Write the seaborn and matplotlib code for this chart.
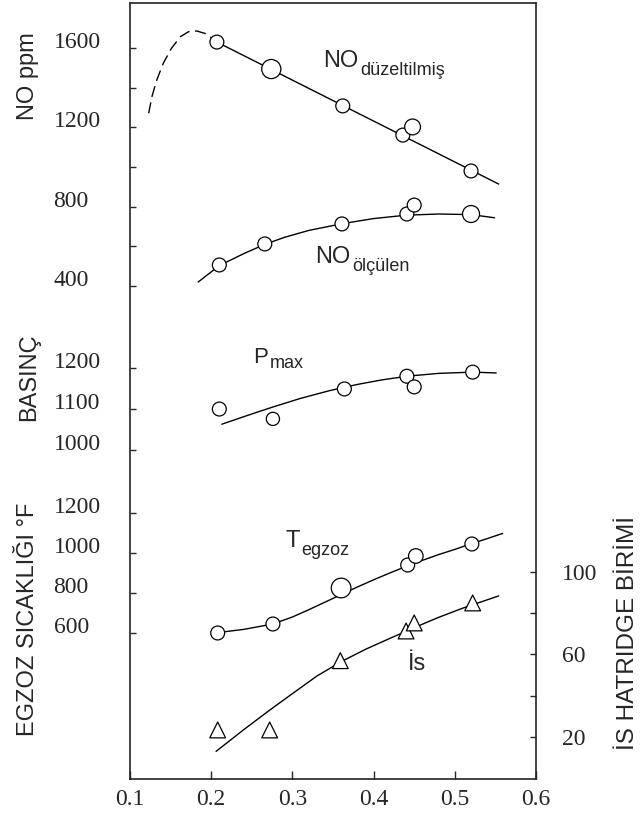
import matplotlib
matplotlib.use('Agg')
import seaborn as sns
import matplotlib.pyplot as plt

x_ticks = [0.1, 0.2, 0.3, 0.4, 0.5, 0.6]

# NO duzeltilmis (ppm)
no_duz_x = [0.207, 0.274, 0.362, 0.436, 0.448, 0.520]
no_duz_y = [1630, 1494, 1308, 1161, 1202, 980]
no_duz_fit_x = [0.207, 0.554]
no_duz_fit_y = [1630, 914]
no_duz_dash_x = [0.123, 0.127, 0.133, 0.141, 0.151, 0.162, 0.172, 0.182, 0.192, 0.203]
no_duz_dash_y = [1271, 1355, 1439, 1523, 1598, 1657, 1682, 1686, 1674, 1645]

# NO olculen (ppm)
no_olc_x = [0.210, 0.266, 0.361, 0.441, 0.450, 0.520]
no_olc_y = [506, 612, 713, 763, 808, 763]
no_olc_fit_x = [0.184, 0.210, 0.240, 0.266, 0.290, 0.320, 0.361, 0.400, 0.440,
                0.480, 0.520, 0.549]
no_olc_fit_y = [420, 503, 563, 610, 645, 680, 714, 740, 757, 763, 760, 744]

# Pmax (basinc)
p_x = [0.210, 0.276, 0.364, 0.441, 0.450, 0.522]
p_y = [1100, 1076, 1149, 1180, 1154, 1190]
p_fit_x = [0.213, 0.250, 0.276, 0.310, 0.346, 0.380, 0.410, 0.441, 0.480,
           0.522, 0.551]
p_fit_y = [1063, 1088, 1105, 1126, 1145, 1160, 1171, 1180, 1187, 1190, 1188]

# T egzoz (F)
t_x = [0.208, 0.276, 0.360, 0.442, 0.452, 0.521]
t_y = [600, 645, 825, 940, 985, 1045]
t_fit_x = [0.208, 0.240, 0.276, 0.300, 0.320, 0.340, 0.360, 0.380, 0.400,
           0.420, 0.440, 0.460, 0.480, 0.500, 0.520, 0.540, 0.559]
t_fit_y = [602, 618, 645, 680, 716, 754, 792, 830, 866, 900, 933, 963, 992,
           1018, 1046, 1072, 1098]

# Is (Hatridge birimi)
is_x = [0.208, 0.272, 0.359, 0.440, 0.450, 0.522]
is_y = [23.4, 23.4, 57, 71.4, 75.3, 85]
is_fit_x = [0.206, 0.240, 0.272, 0.300, 0.330, 0.360, 0.390, 0.420, 0.450,
            0.480, 0.510, 0.554]
is_fit_y = [13, 23.5, 33, 41, 49.5, 56.5, 62.5, 67.8, 73, 78, 82.5, 88.4]

# eksen etiketleri
no_ticks, no_minor = [400, 800, 1200, 1600], [600, 1000, 1400]
p_ticks = [1000, 1100, 1200]
t_ticks = [600, 800, 1000, 1200]
is_ticks, is_minor = [20, 60, 100], [40, 80]

# marker boyutlari (alan, pt^2)
no_duz_s = [100, 190, 100, 100, 130, 100]
no_olc_s = [100, 100, 100, 100, 100, 150]
p_s = [100, 90, 100, 100, 100, 100]
t_s = [100, 100, 200, 100, 110, 100]
is_s = [130, 130, 130, 130, 130, 130]

sns.set_style('ticks')
plt.rcParams['font.family'] = ['Liberation Serif', 'DejaVu Serif']
SANS = ['Liberation Sans', 'DejaVu Sans']

fig = plt.figure(figsize=(6.43, 8.30), dpi=100)
ax = fig.add_axes([130 / 643, 51 / 830, 406 / 643, 776 / 830])
ax_p = ax.twinx()
ax_t = ax.twinx()
ax_s = ax.twinx()


def draw_series(a, fit_x, fit_y, pts_x, pts_y, sizes, marker='o'):
    sns.lineplot(x=fit_x, y=fit_y, ax=a, color='black', lw=1.0,
                 estimator=None, sort=False, zorder=2)
    sns.scatterplot(x=pts_x, y=pts_y, ax=a, marker=marker, s=sizes,
                    color='white', edgecolor='black', linewidth=0.9, zorder=3)


draw_series(ax, no_duz_fit_x, no_duz_fit_y, no_duz_x, no_duz_y, no_duz_s)
sns.lineplot(x=no_duz_dash_x, y=no_duz_dash_y, ax=ax, color='black', lw=1.0,
             estimator=None, sort=False, linestyle=(0, (8, 4)))
draw_series(ax, no_olc_fit_x, no_olc_fit_y, no_olc_x, no_olc_y, no_olc_s)
draw_series(ax_p, p_fit_x, p_fit_y, p_x, p_y, p_s)
draw_series(ax_t, t_fit_x, t_fit_y, t_x, t_y, t_s)
draw_series(ax_s, is_fit_x, is_fit_y, is_x, is_y, is_s, marker='^')

# x ekseni
ax.set_xlim(0.1, 0.6)
ax.set_xticks(x_ticks)
ax.set_xticklabels([f'{v:.1f}' for v in x_ticks])
ax.tick_params(axis='x', direction='in', length=6, width=1, pad=7,
               labelsize=17, top=False)

# sol olcekler (hepsi ayni sol cerceve uzerinde)
ax.set_ylim(-2086, 1827)
ax.set_yticks(no_ticks)
ax.set_yticks(no_minor, minor=True)
ax_p.set_ylim(198, 2090)
ax_p.set_yticks(p_ticks)
ax_t.set_ylim(-130, 3750)
ax_t.set_yticks(t_ticks)
for a in (ax, ax_p, ax_t):
    a.yaxis.tick_left()
    a.tick_params(axis='y', which='both', direction='in', length=4, width=1,
                  pad=55, labelsize=17, right=False)
    plt.setp(a.get_yticklabels(), ha='left', va='baseline')

# sag olcek (is)
ax_s.set_ylim(-0.4, 376)
ax_s.set_yticks(is_ticks)
ax_s.set_yticks(is_minor, minor=True)
ax_s.tick_params(axis='y', which='both', direction='in', length=4, width=1,
                 pad=19, labelsize=17, left=False)

for a in (ax_p, ax_t, ax_s):
    for sp in a.spines.values():
        sp.set_visible(False)
    a.set_xlabel('')
    a.set_ylabel('')
for sp in ax.spines.values():
    sp.set_visible(True)
    sp.set_color('#222222')
    sp.set_linewidth(1.2)
ax.set_xlabel('')
ax.set_ylabel('')


# egri etiketleri
def curve_label(a, x, y, main, sub, size=17, subsize=13, dy=-2):
    t = a.text(x, y, main, fontsize=size, family=SANS, ha='left', va='baseline')
    if sub:
        a.annotate(sub, xy=(1, 0), xycoords=t, xytext=(1.5, dy),
                   textcoords='offset points', fontsize=subsize, family=SANS,
                   ha='left', va='baseline')


curve_label(ax, 0.3377, 1504, 'NO', 'düzeltilmiş')
curve_label(ax, 0.328, 516, 'NO', 'ölçülen', dy=-2.5)
curve_label(ax_p, 0.2515, 1212, 'P', 'max', size=16, dy=0)
curve_label(ax_t, 0.291, 1030, 'T', 'egzoz', dy=-2)
curve_label(ax_s, 0.4424, 52.5, 'İs', None)

# eksen basliklari
fig.text(0.0435, 0.9078, 'NO ppm', rotation=90, ha='center', va='center',
         fontsize=17, family=SANS)
fig.text(0.0460, 0.5458, 'BASINÇ', rotation=90, ha='center', va='center',
         fontsize=17, family=SANS)
fig.text(0.0440, 0.2542, 'EGZOZ SICAKLIĞI °F', rotation=90, ha='center',
         va='center', fontsize=17, family=SANS)
fig.text(0.9767, 0.2373, 'İS HATRIDGE BİRİMİ', rotation=90, ha='center',
         va='center', fontsize=17.5, family=SANS)

fig.savefig('out.png', dpi=100)
